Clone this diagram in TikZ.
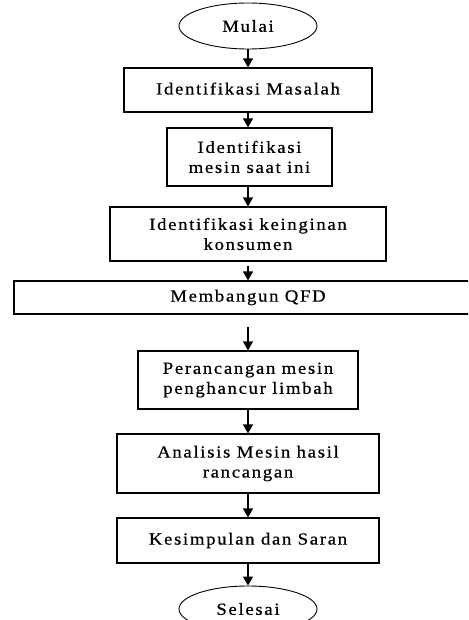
\documentclass[tikz,border=0pt]{standalone}
\usepackage{fontspec}
\setmainfont{Liberation Serif}[FakeStretch=1.1, LetterSpace=10, FakeBold=0.6]
\usetikzlibrary{arrows.meta,shapes.geometric}
\begin{document}
\begin{tikzpicture}[x=1pt,y=-1pt,
  every node/.style={font=\fontsize{17}{20}\selectfont},
  proc/.style={draw, line width=1.2pt, rectangle, inner sep=0pt, align=center},
  term/.style={draw, line width=0.9pt, ellipse, inner sep=0pt, minimum width=138pt, minimum height=46pt},
  flow/.style={line width=1.3pt, -{Triangle[width=10pt,length=9pt]}}]
\useasboundingbox (0,0) rectangle (468,620);
\clip (0,0) rectangle (468,620);
\node[term] (e1) at (248,26) {\raisebox{-5pt}{Mulai}};
\node[proc, minimum width=248pt, minimum height=44pt] (b1) at (248,90) {\raisebox{3pt}{Identifikasi Masalah}};
\node[proc, minimum width=165pt, minimum height=58pt] (b2) at (249.5,157) {Identifikasi\\mesin saat ini};
\node[proc, minimum width=276pt, minimum height=54pt] (b3) at (248,234) {Identifikasi keinginan\\konsumen};
\node[proc, minimum width=468pt, minimum height=33pt] (b4) at (248,297.5) {Membangun QFD};
\node[proc, minimum width=220pt, minimum height=58pt] (b5) at (248,380) {Perancangan mesin\\penghancur limbah};
\node[proc, minimum width=262pt, minimum height=59pt] (b6) at (248,463.5) {Analisis Mesin hasil\\rancangan};
\node[proc, minimum width=262pt, minimum height=45pt] (b7) at (248,540.5) {\raisebox{3pt}{Kesimpulan dan Saran}};
\node[term] (e2) at (248,609) {Selesai};
\draw[flow] (e1.south) -- (b1.north);
\draw[flow] (b1.south) -- (b1.south |- b2.north);
\draw[flow] (b1.south |- b2.south) -- (b3.north);
\draw[flow] ([yshift=-4pt]b3.south) -- (b4.north);
\draw[flow] ([yshift=-12pt]b4.south) -- (b5.north);
\draw[flow] (b5.south) -- (b6.north);
\draw[flow] (b6.south) -- (b7.north);
\draw[flow] (b7.south) -- (e2.north);
\end{tikzpicture}
\end{document}
